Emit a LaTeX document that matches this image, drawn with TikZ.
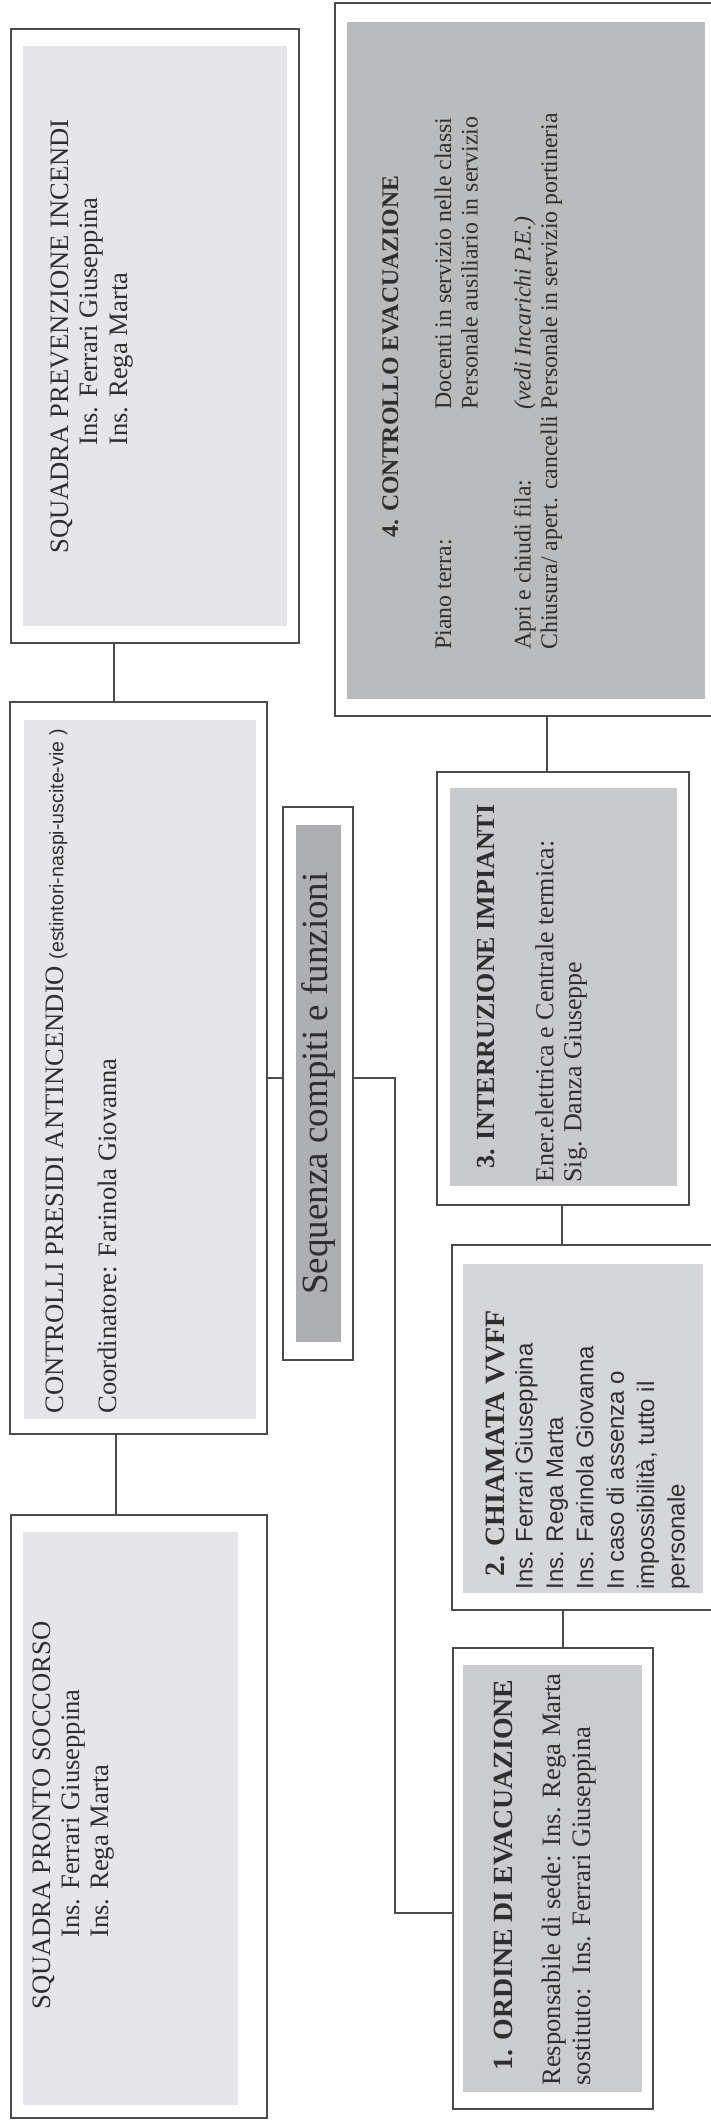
\documentclass[tikz,border=0pt]{standalone}
\usepackage{fontspec}
\setmainfont{Liberation Serif}
\setsansfont{Liberation Sans}
\usetikzlibrary{fit}
\definecolor{edge}{HTML}{4A4A4A}
\definecolor{ink}{HTML}{2E2E2E}
\definecolor{light}{HTML}{E6E6EA}
\definecolor{evacg}{HTML}{B9BBBD}
\definecolor{impg}{HTML}{C8CACD}
\definecolor{vvffg}{HTML}{D5D6DA}
\definecolor{ordg}{HTML}{CACCCF}
\definecolor{seqg}{HTML}{ADAFB2}
\begin{document}
\begin{tikzpicture}[x=0.5pt,y=-0.5pt,
  outer/.style={draw=edge, line width=1pt, inner sep=0pt, outer sep=0pt},
  bg/.style={draw=none, inner sep=0pt, outer sep=0pt},
  conn/.style={draw=edge, line width=1pt},
  txt/.style={rotate=90, anchor=north west, inner sep=0pt, align=left, text=ink}]
\useasboundingbox (0,0) rectangle (711,2122);
\fill[white] (0,0) rectangle (711,2122);

% outer boxes
\node[outer, fit={(11,29) (299,643)}] (prev) {};
\node[outer, fit={(10,702) (267,1434)}] (ctrl) {};
\node[outer, fit={(11,1515) (267,2118)}] (pronto) {};
\node[outer, fit={(335,3) (722,716)}] (evac) {};
\node[outer, fit={(437,772) (689,1205)}] (imp) {};
\node[outer, fit={(452,1245) (718,1610)}] (vvff) {};
\node[outer, fit={(453,1648) (653,2109)}] (ord) {};
\node[outer, fit={(283,807) (353,1360)}] (seq) {};

% inner grey panels
\node[bg, fill=light, fit={(23,46) (287,626)}] (prevbg) {};
\node[bg, fill=light, fit={(24,720) (256,1419)}] (ctrlbg) {};
\node[bg, fill=light, fit={(23,1532) (238,2105)}] (prontobg) {};
\node[bg, fill=evacg, fit={(347,22) (705,699)}] (evacbg) {};
\node[bg, fill=impg, fit={(450,788) (677,1186)}] (impbg) {};
\node[bg, fill=vvffg, fit={(463,1264) (703,1593)}] (vvffbg) {};
\node[bg, fill=ordg, fit={(463,1665) (642,2092)}] (ordbg) {};
\node[bg, fill=seqg, fit={(296,825) (341,1342)}] (seqbg) {};

% texts
\node[txt, font=\fontsize{13.3}{14.75}\selectfont] (prevt) at (50.4,554)
  {SQUADRA PREVENZIONE INCENDI\\ \hspace*{54pt}Ins. Ferrari Giuseppina\\ \hspace*{54pt}Ins. Rega Marta};

\node[txt, font=\fontsize{13.3}{15}\selectfont] (ctrlt) at (45.4,1414)
  {CONTROLLI PRESIDI ANTINCENDIO {\sffamily\fontsize{9.8}{12}\selectfont (estintori-naspi-uscite-vie )}\\[11.5pt]
   Coordinatore: Farinola Giovanna};

\node[txt, font=\fontsize{13.3}{14.5}\selectfont] (prontot) at (32.4,2010)
  {SQUADRA PRONTO SOCCORSO\\ \hspace*{36pt}Ins. Ferrari Giuseppina\\ \hspace*{36pt}Ins. Rega Marta};

\node[txt, font=\fontsize{11.9}{13.25}\selectfont] (evact) at (382,650)
  {\hspace*{56pt}\textbf{4. CONTROLLO EVACUAZIONE}\\[13.25pt]
   \makebox[120pt][l]{Piano terra:}Docenti in servizio nelle classi\\
   \hspace*{120pt}Personale ausiliario in servizio\\[13.25pt]
   \makebox[120pt][l]{Apri e chiudi fila:}\textit{(vedi Incarichi P.E.)}\\
   Chiusura/ apert. cancelli Personale in servizio portineria};

\node[txt, font=\fontsize{13}{14}\selectfont] (impt) at (476.8,1183)
  {\hspace*{7pt}\textbf{3. INTERRUZIONE IMPIANTI}\\[15.5pt]
   Ener.elettrica e Centrale termica:\\ Sig. Danza Giuseppe};

\node[txt, font=\sffamily\fontsize{12}{15.2}\selectfont] (vvfft) at (485.7,1590)
  {\hspace*{6.5pt}{\rmfamily\bfseries\fontsize{14}{14}\selectfont 2. CHIAMATA VVFF}\\[-1.2pt]
   Ins. Ferrari Giuseppina\\ Ins. Rega Marta\\ Ins. Farinola Giovanna\\
   In caso di assenza o\\ impossibilità, tutto il\\ personale};

\node[txt, font=\fontsize{13.3}{15}\selectfont] (ordt) at (493.3,2086)
  {\hspace*{7.5pt}{\bfseries\fontsize{13.9}{15}\selectfont 1. ORDINE DI EVACUAZIONE}\\[9pt]
   Responsabile di sede: Ins. Rega Marta\\ sostituto:\ \ Ins. Ferrari Giuseppina};

\node[rotate=90, anchor=base, inner sep=0pt, text=ink, font=\fontsize{18.5}{20}\selectfont] (seqt) at (327,1083.5)
  {Sequenza compiti e funzioni};

% connectors
\coordinate (cA) at (114,0);
\coordinate (cB) at (116,0);
\coordinate (cC) at (547,0);
\coordinate (cD) at (562,0);
\coordinate (cE) at (563,0);
\coordinate (bend) at (395,1078);
\coordinate (bend2) at (395,1913);
\draw[conn] (prev.south -| cA) -- (ctrl.north -| cA);
\draw[conn] (ctrl.south -| cB) -- (pronto.north -| cB);
\draw[conn] (evac.south -| cC) -- (imp.north -| cC);
\draw[conn] (imp.south -| cD) -- (vvff.north -| cD);
\draw[conn] (vvff.south -| cE) -- (ord.north -| cE);
\draw[conn] (ctrl.east |- bend) -- (seq.west |- bend);
\draw[conn] (seq.east |- bend) -- (bend) -- (bend2) -- (ord.west |- bend2);
\end{tikzpicture}
\end{document}
